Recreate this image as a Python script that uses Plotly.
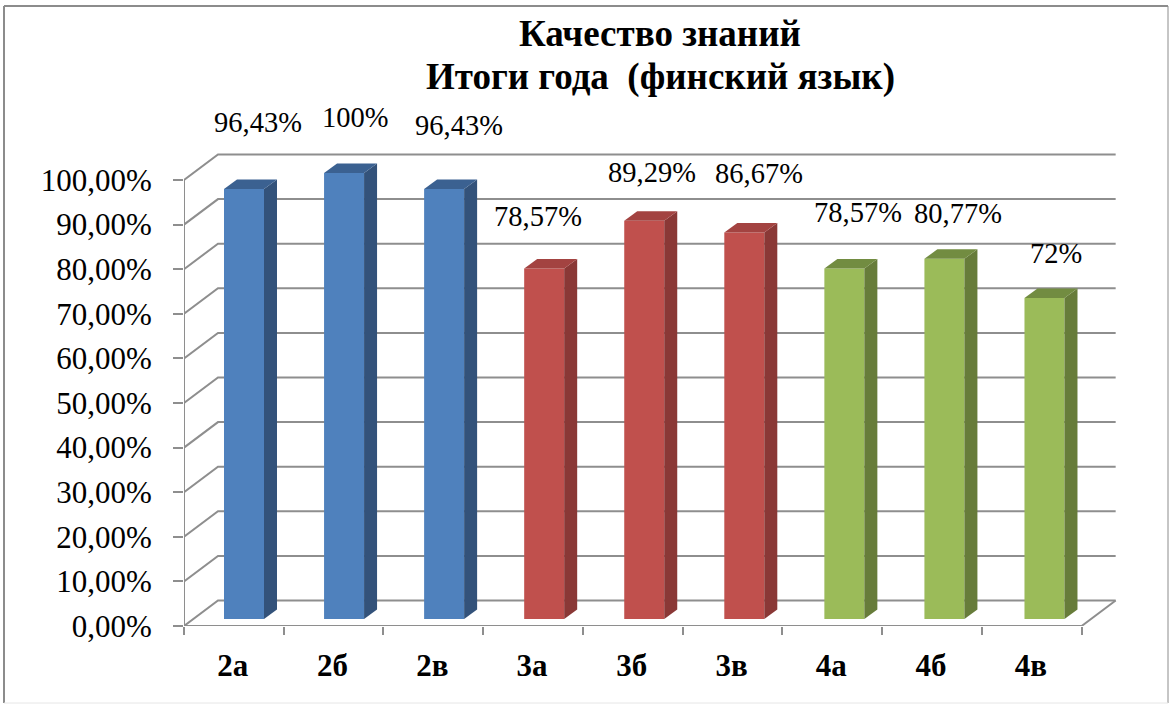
import plotly.graph_objects as go

# data
CLASSES = ["2а", "2б", "2в", "3а", "3б", "3в", "4а", "4б", "4в"]
QUALITY = [96.43, 100, 96.43, 78.57, 89.29, 86.67, 78.57, 80.77, 72]
LABELS = ["96,43%", "100%", "96,43%", "78,57%", "89,29%", "86,67%", "78,57%", "80,77%", "72%"]
Y_TICKS = [0, 10, 20, 30, 40, 50, 60, 70, 80, 90, 100]
Y_TICK_TEXT = ["0,00%", "10,00%", "20,00%", "30,00%", "40,00%", "50,00%",
               "60,00%", "70,00%", "80,00%", "90,00%", "100,00%"]
TITLE_LINES = ["Качество знаний", "Итоги года \u00a0(финский язык)"]

# styling: front, side, top colour for each class group
FRONT = ["#4F81BD"] * 3 + ["#C0504D"] * 3 + ["#9BBB59"] * 3
SIDE = ["#33527A"] * 3 + ["#8A3836"] * 3 + ["#677C3A"] * 3
TOP = ["#3B6191"] * 3 + ["#A34341"] * 3 + ["#728C41"] * 3
LABEL_DX = [14, 11, 15, -6, 8, 15, 14, 14, 12]
LABEL_DY = [66, 56, 63, 52, 48, 59, 56, 45, 44]

GRID = "#8E8E8E"
FONT = "Liberation Serif"
W, H = 1169, 704
PLOT_L, PLOT_R, PLOT_T, PLOT_B = 184, 1118, 150, 626

# fake 3D: px per unit on the front plane of the box
PX_X = 99.74
PX_Y = 4.46
WALL_X = 34 / PX_X
WALL_Y = 25.5 / PX_Y
BAR_W = 40 / PX_X
BAR_STEP = 100.06 / PX_X
BAR_START = 60 / PX_X
BAR_BASE = 7 / PX_Y
DEPTH_X = 13 / PX_X
DEPTH_Y = 9.5 / PX_Y
N = len(CLASSES)

centers = [BAR_START + i * BAR_STEP for i in range(N)]


def paper_x(px):
    return (px - PLOT_L) / (PLOT_R - PLOT_L)


def paper_y(px):
    return (PLOT_B - px) / (PLOT_B - PLOT_T)


fig = go.Figure()

fig.add_trace(go.Bar(
    x=centers,
    y=QUALITY,
    base=BAR_BASE,
    width=BAR_W,
    marker=dict(color=FRONT, line=dict(width=0)),
    showlegend=False,
    hoverinfo="skip",
))

# side and top faces of each bar
for c, v, side, top in zip(centers, QUALITY, SIDE, TOP):
    x0, x1 = c - BAR_W / 2, c + BAR_W / 2
    y0, y1 = BAR_BASE, BAR_BASE + v
    fig.add_trace(go.Scatter(
        x=[x1, x1, x1 + DEPTH_X, x1 + DEPTH_X, x1],
        y=[y0, y1, y1 + DEPTH_Y, y0 + DEPTH_Y, y0],
        mode="lines", fill="toself", fillcolor=side, line=dict(width=0),
        showlegend=False, hoverinfo="skip", cliponaxis=False,
    ))
    fig.add_trace(go.Scatter(
        x=[x0, x1, x1 + DEPTH_X, x0 + DEPTH_X, x0],
        y=[y1, y1, y1 + DEPTH_Y, y1 + DEPTH_Y, y1],
        mode="lines", fill="toself", fillcolor=top, line=dict(width=0),
        showlegend=False, hoverinfo="skip", cliponaxis=False,
    ))

# walls of the box go below the bars
grid_line = dict(color=GRID, width=2)
for v in Y_TICKS:
    fig.add_shape(type="path", xref="x", yref="y", layer="below", line=grid_line,
                  path=f"M 0 {v} L {WALL_X} {v + WALL_Y} L {N + WALL_X} {v + WALL_Y}")

# axis lines sit on the plot edge, so they must not be clipped
fig.add_trace(go.Scatter(
    x=[0, 0], y=[Y_TICKS[-1], 0],
    mode="lines", line=grid_line, showlegend=False, hoverinfo="skip", cliponaxis=False,
))
fig.add_trace(go.Scatter(
    x=[0, N, N + WALL_X], y=[0, 0, WALL_Y],
    mode="lines", line=grid_line, showlegend=False, hoverinfo="skip", cliponaxis=False,
))

for c, v, text, dx, dy in zip(centers, QUALITY, LABELS, LABEL_DX, LABEL_DY):
    fig.add_annotation(x=c, y=BAR_BASE + v, text=text, showarrow=False,
                       xshift=dx, yshift=dy, font=dict(family=FONT, size=28.5, color="#000000"))

# title lines are placed apart because their spacing is tighter than plotly's
for text, y in zip(TITLE_LINES, [33, 77]):
    fig.add_annotation(xref="paper", yref="paper", x=paper_x(660), y=paper_y(y), text=f"<b>{text}</b>",
                       xanchor="center", yanchor="middle",
                       showarrow=False, font=dict(family=FONT, size=37, color="#000000"))

# outer frame of the chart
for x0, y0, x1, y1, color, width in [
    (4, 6, 4, 703, "#8C8C8C", 2),
    (4, 6, 1168, 6, "#8C8C8C", 2),
    (1168, 6, 1168, 703, "#8C8C8C", 1),
    (4, 703, 1168, 703, "#E6E6E6", 1),
]:
    fig.add_shape(type="line", xref="paper", yref="paper",
                  x0=paper_x(x0), x1=paper_x(x1), y0=paper_y(y0), y1=paper_y(y1),
                  line=dict(color=color, width=width))

fig.update_layout(
    width=W,
    height=H,
    margin=dict(l=PLOT_L, r=W - PLOT_R, t=PLOT_T, b=H - PLOT_B),
    paper_bgcolor="#FFFFFF",
    plot_bgcolor="rgba(0,0,0,0)",
    showlegend=False,
    xaxis=dict(
        range=[0, (PLOT_R - PLOT_L) / PX_X],
        tickmode="array",
        tickvals=[i + 0.49 for i in range(N)],
        ticktext=[f"<b>{c}</b>" for c in CLASSES],
        ticks="",
        ticklabelstandoff=18,
        tickfont=dict(family=FONT, size=31, color="#000000"),
        showgrid=False,
        zeroline=False,
        showline=False,
        minor=dict(tickmode="array", tickvals=list(range(N + 1)), ticks="outside",
                   ticklen=8, tickwidth=2, tickcolor=GRID, showgrid=False),
    ),
    yaxis=dict(
        range=[0, (PLOT_B - PLOT_T) / PX_Y],
        tickmode="array",
        tickvals=Y_TICKS,
        ticktext=Y_TICK_TEXT,
        ticks="outside",
        ticklen=10,
        tickwidth=2,
        tickcolor=GRID,
        ticklabelstandoff=15,
        tickfont=dict(family=FONT, size=31, color="#000000"),
        showgrid=False,
        zeroline=False,
        showline=False,
    ),
)

fig.write_html("out.html", config=dict(displayModeBar=False),
               post_script="document.body.style.margin='0';document.body.style.overflow='hidden';")
